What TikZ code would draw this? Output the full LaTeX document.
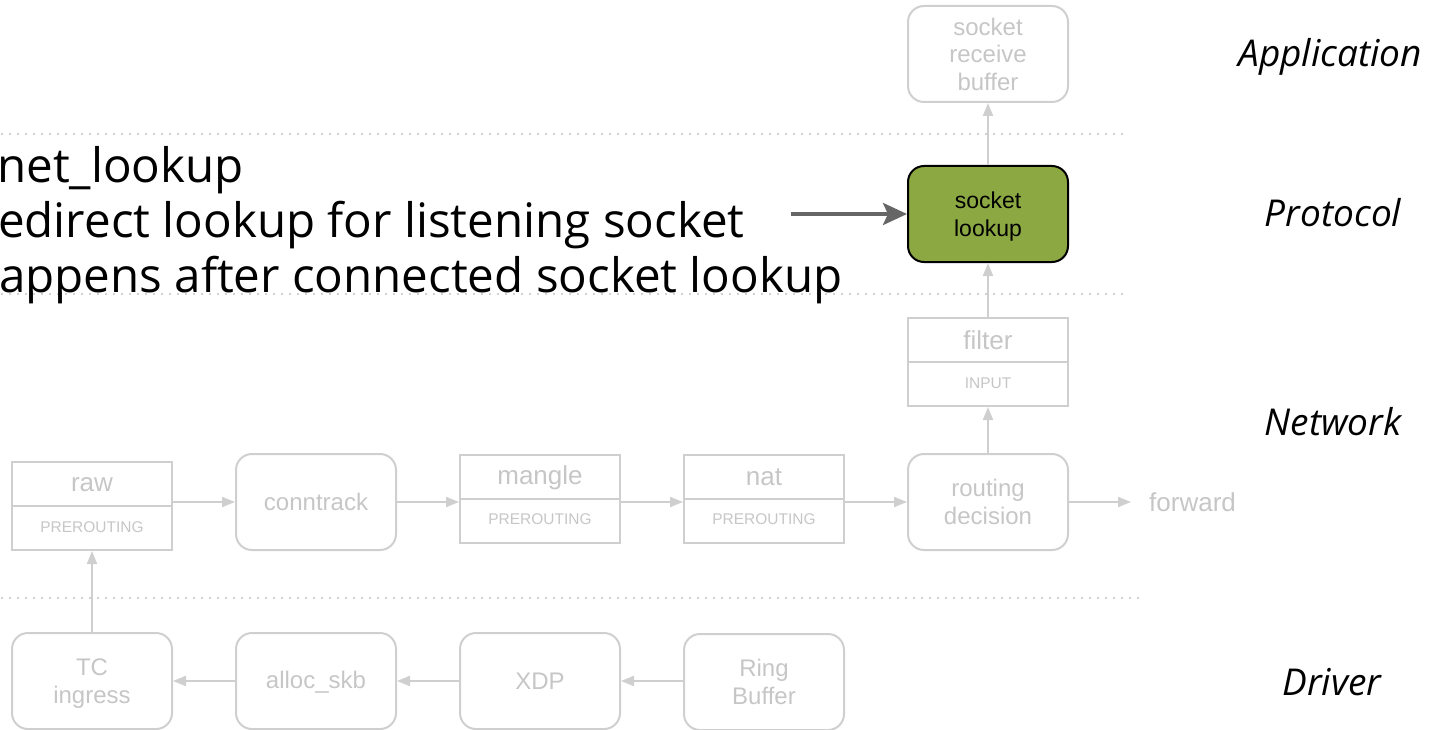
\documentclass[tikz,border=0pt]{standalone}
\usepackage{fontspec}
\setmainfont{Open Sans}
\newfontfamily\arialfont{Liberation Sans}
\usetikzlibrary{arrows.meta}

\definecolor{faint}{HTML}{CFCFCF}
\definecolor{fainttext}{HTML}{C6C6C6}
\definecolor{leaf}{HTML}{8CA843}
\definecolor{pointer}{HTML}{666666}
\definecolor{layerdots}{HTML}{D2D2D2}

\tikzset{
  roundbox/.style={draw=faint, line width=2pt, rounded corners=16pt,
    minimum width=160pt, minimum height=96pt, inner sep=0pt, align=center,
    text=fainttext, font=\arialfont\fontsize{24}{27.5}\selectfont},
  tablebox/.style={draw=faint, line width=2pt, minimum width=160pt,
    minimum height=88pt, inner sep=0pt},
  tablehead/.style={text=fainttext, inner sep=0pt,
    font=\arialfont\fontsize{26}{30}\selectfont},
  tablesub/.style={text=fainttext, inner sep=0pt,
    font=\arialfont\fontsize{15.5}{18}\selectfont},
  flow/.style={draw=faint, line width=2pt, -{Triangle[length=13pt,width=10pt]}},
  layer/.style={font=\itshape\fontsize{37}{44}\selectfont, anchor=base, inner sep=0pt},
  note/.style={font=\fontsize{47.5}{54}\selectfont, anchor=base west, inner sep=0pt},
  layerline/.style={draw=layerdots, line width=2pt, dash pattern=on 2pt off 6pt},
}

\begin{document}
\begin{tikzpicture}[x=1pt, y=-1pt]
  \useasboundingbox (0,0) rectangle (1437,730);
  \clip (0,0) rectangle (1437,730);

  % layer separators
  \draw[layerline] (1,134) -- (1127,134);
  \draw[layerline] (1,294) -- (1127,294);
  \draw[layerline] (1,598) -- (1143,598);

  % layer names
  \node[layer] (lapp)  at (1330,67)  {Application};
  \node[layer] (lprot) at (1333,226) {Protocol};
  \node[layer] (lnet)  at (1333,435) {Network};
  \node[layer] (ldrv)  at (1332,695) {Driver};

  % application / protocol
  \node[roundbox] (recv) at (988,54) {socket\\receive\\buffer};
  \node[roundbox, fill=leaf, draw=black, text=black,
        font=\arialfont\fontsize{23}{28}\selectfont] (lookup) at (988,214)
        {\rule{0pt}{22pt}socket\\lookup};

  % network layer
  \node[tablebox] (filter) at (988,362) {};
  \draw[draw=faint, line width=2pt] (filter.west) -- (filter.east);
  \node[tablehead] (filter-t) at ([yshift=22pt]filter.center) {filter};
  \node[tablesub]  (filter-b) at ([yshift=-21pt]filter.center) {INPUT};

  \node[roundbox] (route) at (988,502) {routing\\decision};
  \node[text=fainttext, font=\arialfont\fontsize{26}{30}\selectfont,
        anchor=west, inner sep=0pt] (fwd) at (1149,502) {forward};

  \node[tablebox] (raw) at (92,506) {};
  \draw[draw=faint, line width=2pt] (raw.west) -- (raw.east);
  \node[tablehead] (raw-t) at ([yshift=21pt]raw.center) {raw};
  \node[tablesub]  (raw-b) at ([yshift=-21pt]raw.center) {PREROUTING};

  \node[roundbox] (conn) at (316,502) {conntrack};

  \node[tablebox] (mangle) at (540,498.5) {};
  \draw[draw=faint, line width=2pt] (mangle.west) -- (mangle.east);
  \node[tablehead] (mangle-t) at ([yshift=21pt]mangle.center) {mangle};
  \node[tablesub]  (mangle-b) at ([yshift=-21pt]mangle.center) {PREROUTING};

  \node[tablebox] (nat) at (764,498.5) {};
  \draw[draw=faint, line width=2pt] (nat.west) -- (nat.east);
  \node[tablehead] (nat-t) at ([yshift=21pt]nat.center) {nat};
  \node[tablesub]  (nat-b) at ([yshift=-21pt]nat.center) {PREROUTING};

  % driver layer
  \node[roundbox] (tc)    at (92,681)  {\rule{0pt}{22pt}TC\\ingress};
  \node[roundbox] (alloc) at (316,681) {\rule{0pt}{20pt}alloc\_skb};
  \node[roundbox] (xdp)   at (540,681) {XDP};
  \node[roundbox] (ring)  at (764,682) {Ring\\Buffer};

  % packet path
  \draw[flow] (ring.west |- xdp.east) -- (xdp.east);
  \draw[flow] (xdp.west) -- (alloc.east);
  \draw[flow] (alloc.west) -- (tc.east);
  \draw[flow] (tc.north) -- (raw.south);
  \draw[flow] (raw.east |- conn.west) -- (conn.west);
  \draw[flow] (conn.east) -- (conn.east -| mangle.west);
  \draw[flow] (mangle.east |- conn.east) -- (nat.west |- conn.east);
  \draw[flow] (nat.east |- route.west) -- (route.west);
  \draw[flow, shorten >=18pt] (route.east) -- (route.east -| fwd.west);
  \draw[flow] (route.north) -- (filter.south);
  \draw[flow] (filter.north) -- (lookup.south);
  \draw[flow] (lookup.north) -- (recv.south);

  % explanation text
  \node[note] (n1) at (-3,183)   {net\_lookup};
  \node[note] (n2) at (-2,237.5) {edirect lookup for listening socket};
  \node[note] (n3) at (-1,292)   {appens after connected socket lookup};

  \coordinate (callout) at (791,214);
  \draw[draw=pointer, line width=4pt,
        -{Stealth[length=24pt,width=22pt,inset=5pt]}]
    (callout) -- (lookup.west);
\end{tikzpicture}
\end{document}
